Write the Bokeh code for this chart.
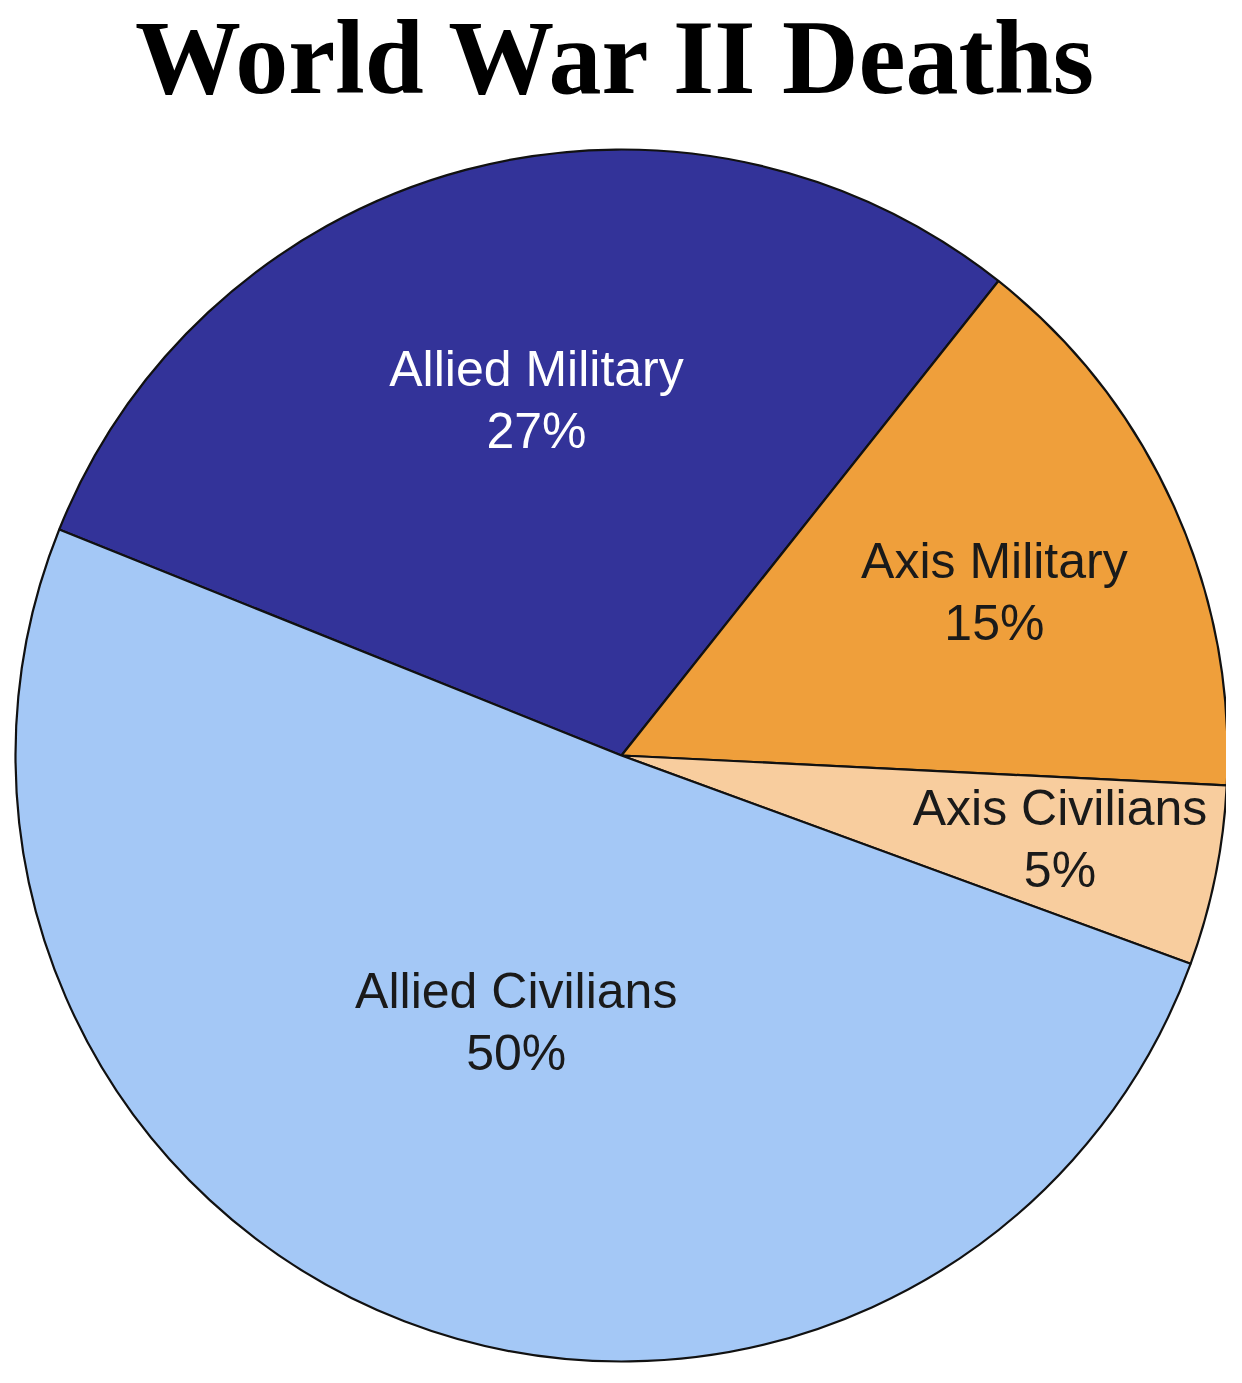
import math
from bokeh.plotting import figure
from bokeh.models import Range1d, Label
from bokeh.core.properties import value
from bokeh.embed import file_html
from bokeh.resources import INLINE

# ---- data ----
categories = ["Allied Military", "Axis Military", "Axis Civilians", "Allied Civilians"]
shares = [29.6, 15.1, 4.8, 50.5]          # slice sizes as drawn
pct_labels = ["27%", "15%", "5%", "50%"]  # printed percentages
colors = ["#333399", "#EF9F3B", "#F8CD9E", "#A4C8F6"]
text_colors = ["#FFFFFF", "#1a1a1a", "#1a1a1a", "#1a1a1a"]
title = "World War II Deaths"

# ---- layout ----
W, H = 1226, 1367
p = figure(width=W, height=H, output_backend="svg", toolbar_location=None,
           x_range=Range1d(0, W), y_range=Range1d(-H, 0),
           min_border=0)
p.axis.visible = False
p.grid.visible = False
p.outline_line_color = None
p.background_fill_color = "white"
p.border_fill_color = "white"

cx, cy, r = 621, -755, 606
start = math.radians(158.1)
label_frac = [0.60, 0.67, 0.74, 0.48]
label_nudge = [(8, 4), (3, -4), (-1, 6), (-1, 5)]

total = sum(shares)
ang = start
for name, s, pct, col, tc, lf, nd in zip(categories, shares, pct_labels, colors,
                                          text_colors, label_frac, label_nudge):
    span = s / total * 2 * math.pi
    a0, a1 = ang - span, ang
    p.wedge(x=cx, y=cy, radius=r, start_angle=a0, end_angle=a1, direction="anticlock",
            fill_color=col, line_color="#111111", line_width=2.2)
    mid = (a0 + a1) / 2
    lx = cx + lf * r * math.cos(mid) + nd[0]
    ly = cy + lf * r * math.sin(mid) + nd[1]
    p.text(x=[lx], y=[ly + 31], text=[name], text_align="center", text_baseline="middle",
           text_font=value("Liberation Sans"), text_font_size="50px", text_color=tc)
    p.text(x=[lx], y=[ly - 31], text=[pct], text_align="center", text_baseline="middle",
           text_font=value("Liberation Sans"), text_font_size="50px", text_color=tc)
    ang = a0

p.add_layout(Label(x=616, y=-57, text=title, text_align="center", text_baseline="alphabetic",
                   text_font="Liberation Serif", text_font_style="bold", text_font_size="106px",
                   text_color="black"))

open("out.html", "w").write(file_html(p, INLINE))
